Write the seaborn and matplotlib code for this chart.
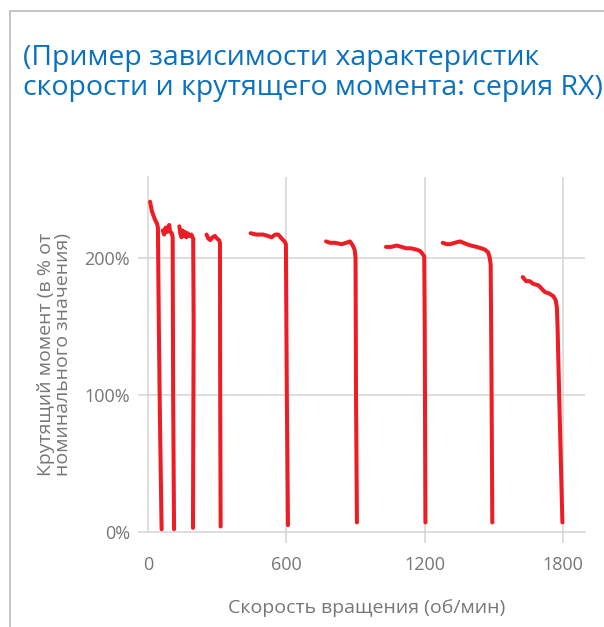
import matplotlib
matplotlib.use("Agg")
import matplotlib.pyplot as plt
import seaborn as sns
import pandas as pd
from matplotlib.lines import Line2D

# скорость (об/мин) и крутящий момент (%) для каждой кривой
rpm_1 = [9, 17, 30, 39, 43, 47, 52, 59]
pct_1 = [241, 234, 228, 225, 222, 150, 80, 2]
rpm_2 = [64, 70, 76, 82, 88, 92, 96, 103, 107, 109, 113]
pct_2 = [220, 217, 222, 219, 223, 224, 219, 218, 215, 100, 2]
rpm_3 = [136, 140, 145, 150, 155, 160, 166, 172, 180, 188, 196, 198, 197, 195]
pct_3 = [223, 218, 215, 220, 216, 219, 215, 218, 216, 217, 214, 150, 100, 3]
rpm_4 = [254, 262, 270, 280, 290, 300, 308, 312, 313, 315]
pct_4 = [217, 214, 213, 215, 216, 214, 213, 211, 100, 4]
rpm_5 = [445, 470, 500, 520, 536, 552, 565, 580, 592, 598, 602, 607]
pct_5 = [218, 217, 217, 216, 215, 217, 217, 214, 212, 210, 100, 5]
rpm_6 = [772, 790, 810, 840, 860, 876, 888, 896, 900, 902, 906]
pct_6 = [212, 211, 211, 210, 211, 212, 209, 206, 200, 100, 7]
rpm_7 = [1032, 1055, 1078, 1100, 1119, 1140, 1165, 1180, 1190, 1198, 1200, 1203]
pct_7 = [208, 208, 209, 208, 207, 207, 206, 205, 203, 201, 150, 7]
rpm_8 = [1278, 1295, 1310, 1330, 1353, 1368, 1382, 1400, 1425, 1445, 1461, 1475, 1482, 1486, 1488, 1490, 1493]
pct_8 = [211, 210, 210, 211, 212, 211, 210, 209, 208, 207, 206, 204, 200, 195, 150, 100, 7]
rpm_9 = [1625, 1640, 1655, 1671, 1693, 1710, 1722, 1740, 1758, 1768, 1773, 1776, 1783, 1797]
pct_9 = [186, 183, 183, 181, 180, 177, 175, 174, 172, 169, 164, 150, 100, 7]

x_ticks = [0, 600, 1200, 1800]
y_ticks = [0, 100, 200]
y_tick_labels = ["0%", "100%", "200%"]

curves = [(rpm_1, pct_1), (rpm_2, pct_2), (rpm_3, pct_3), (rpm_4, pct_4), (rpm_5, pct_5),
          (rpm_6, pct_6), (rpm_7, pct_7), (rpm_8, pct_8), (rpm_9, pct_9)]
rows = []
for i, (xs, ys) in enumerate(curves):
    for x, y in zip(xs, ys):
        rows.append({"rpm": x, "pct": y, "seg": i})
df = pd.DataFrame(rows)

sns.set_style("white")
plt.rcParams['font.family'] = ['Open Sans', 'DejaVu Sans']

grey = "#777777"
grid_col = "#d4d4d4"

fig = plt.figure(figsize=(6.04, 6.27), dpi=100)
ax = fig.add_axes([148 / 604, 95 / 627, 437 / 604, 355 / 627])

ax.set_xlim(0, 1895)
ax.set_ylim(0, 259)

for xv in [600, 1200, 1800]:
    ax.axvline(xv, color=grid_col, lw=1.1, zorder=0)
for yv in [100, 200]:
    ax.axhline(yv, color=grid_col, lw=1.1, zorder=0)

sns.lineplot(data=df, x="rpm", y="pct", units="seg", estimator=None, sort=False,
             color="#ee1c25", lw=2.9, ax=ax, zorder=3)

for s in ["top", "right"]:
    ax.spines[s].set_visible(False)
for s in ["left", "bottom"]:
    ax.spines[s].set_color(grid_col)
    ax.spines[s].set_linewidth(1.1)

ax.set_xticks(x_ticks)
ax.set_xticklabels([str(t) for t in x_ticks])
ax.set_yticks(y_ticks)
ax.set_yticklabels(y_tick_labels)
ax.tick_params(axis="x", length=8, width=1.1, color=grid_col, labelsize=13, labelcolor=grey, pad=9, direction="out")
ax.tick_params(axis="y", length=7, width=1.1, color=grid_col, labelsize=13, labelcolor=grey, pad=6, direction="out")
ax.xaxis.set_ticks_position("bottom")
ax.yaxis.set_ticks_position("left")
ax.get_xticklines()[0].set_visible(False)

ax.set_xlabel("Скорость вращения (об/мин)", fontsize=14, color=grey, labelpad=18)
ax.set_ylabel("Крутящий момент (в % от\nноминального значения)", fontsize=14, color=grey,
              labelpad=9, linespacing=0.95)

fig.text(23 / 604, 1 - 44 / 627, "(Пример зависимости характеристик\nскорости и крутящего момента: серия RX)",
         fontsize=20.5, color="#0a71c0", ha="left", va="top", linespacing=1.08)

fig.add_artist(Line2D([10 / 604, 1], [1 - 11 / 627, 1 - 11 / 627], color="#c4c4c4", lw=1.4))
fig.add_artist(Line2D([10 / 604, 10 / 604], [0, 1 - 11 / 627], color="#c4c4c4", lw=1.4))

fig.savefig("out.png", dpi=100, facecolor="white")
